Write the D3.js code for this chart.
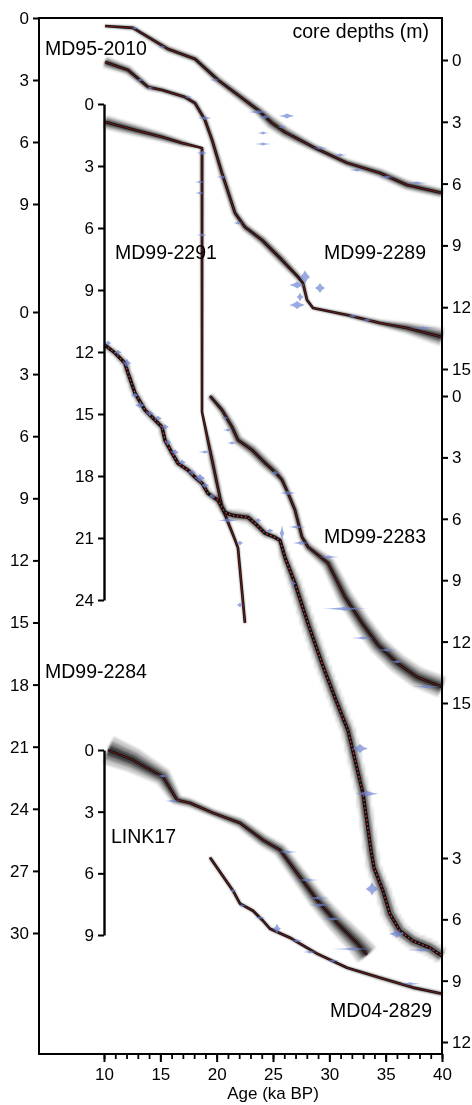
<!DOCTYPE html>
<html>
<head>
<meta charset="utf-8">
<script src="https://cdn.jsdelivr.net/npm/d3@7"></script>
<style>
  body { margin: 0; background: #fff; }
  svg { display: block; font-family: "Liberation Sans", Arial, sans-serif; }
</style>
</head>
<body>
<div id="chart"></div>
<script>
// age-depth models: [age (ka BP), depth (m), age uncertainty (ka)]
const md952010 = [[10.09,0.39,0.12],[12.57,0.48,0.2],[15.68,1.50,0.3],[18.08,1.98,0.3],[20.12,3.00,0.35],[23.67,4.45,0.4],[24.91,5.08,0.55],[26.06,5.52,0.5],[28.55,6.24,0.35],[31.57,7.01,0.35],[34.50,7.50,0.4],[36.89,8.08,0.45],[40.00,8.47,0.4]];
const md992289 = [[10.09,0.10,0.5],[12.13,0.49,0.4],[13.91,1.31,0.3],[15.15,1.46,0.25],[17.19,1.80,0.25],[18.08,2.09,0.25],[18.96,2.91,0.25],[19.59,3.88,0.25],[20.47,5.49,0.3],[21.63,7.43,0.3],[22.51,8.11,0.35],[24.02,8.74,0.4],[25.80,9.71,0.4],[27.22,10.53,0.3],[27.66,10.83,0.2],[28.02,11.65,0.15],[28.55,12.04,0.15],[31.57,12.38,0.2],[34.50,12.77,0.3],[36.89,13.01,0.5],[40.00,13.45,0.8]];
const md992291 = [[10.09,0.87,0.6],[12.75,1.26,0.5],[15.15,1.60,0.4],[16.92,1.89,0.3],[18.70,2.13,0.2],[18.70,14.90,0.05],[19.59,17.22,0.3],[20.47,19.50,0.25],[21.63,21.09,0.15],[21.89,21.48,0.12],[22.51,25.11,0.12]];
const md992284 = [[10.09,1.60,0.3],[10.98,1.98,0.3],[11.86,2.47,0.35],[12.13,2.95,0.35],[12.75,3.92,0.35],[13.64,4.74,0.35],[14.53,5.22,0.35],[15.15,5.56,0.35],[15.41,6.19,0.35],[16.04,6.82,0.35],[16.57,7.31,0.35],[17.46,7.64,0.35],[18.08,7.98,0.35],[18.70,8.27,0.35],[19.23,8.76,0.35],[20.12,9.10,0.4],[20.74,9.68,0.4],[21.36,9.82,0.5],[22.78,9.92,0.5],[23.40,10.21,0.45],[24.29,10.69,0.4],[25.18,10.89,0.35],[25.62,11.03,0.35],[26.06,11.85,0.45],[26.95,13.11,0.55],[28.11,15.05,0.6],[29.35,16.98,0.6],[30.50,18.63,0.6],[31.66,20.22,0.6],[32.99,23.27,0.6],[33.70,26.03,0.6],[33.97,26.85,0.6],[34.76,27.96,0.65],[35.38,29.08,0.7],[36.27,29.90,0.7],[37.43,30.38,0.7],[38.93,30.72,0.7],[40.00,31.11,0.7]];
const md992283 = [[19.41,0.00,0.3],[20.47,0.68,0.35],[21.36,1.51,0.4],[21.89,2.15,0.45],[23.14,2.64,0.5],[24.29,3.27,0.5],[25.18,3.71,0.45],[25.80,4.10,0.35],[26.33,4.74,0.3],[26.95,5.57,0.3],[27.57,6.89,0.3],[28.11,7.38,0.4],[29.88,8.16,0.6],[31.39,9.82,0.7],[32.90,11.09,0.75],[34.32,12.16,0.8],[36.01,13.04,0.85],[37.78,13.73,0.9],[40.00,14.22,0.95]];
const link17 = [[10.36,0.00,1.3],[12.57,0.49,1.1],[15.24,1.31,0.8],[16.48,2.43,0.5],[17.63,2.58,0.4],[19.67,3.06,0.35],[22.07,3.55,0.45],[24.11,4.38,0.55],[25.62,4.86,0.6],[27.13,5.98,0.65],[28.91,7.30,0.75],[30.68,8.41,0.85],[32.46,9.39,0.95],[33.34,9.97,1.05]];
const md042829 = [[19.41,2.98,0.15],[21.45,4.60,0.15],[22.07,5.23,0.15],[23.22,5.58,0.15],[24.11,6.07,0.15],[24.73,6.46,0.15],[26.51,6.90,0.15],[28.91,7.68,0.15],[31.57,8.37,0.15],[34.50,8.86,0.2],[37.43,9.34,0.2],[40.00,9.64,0.2]];

// calibrated dates: [age (ka BP), depth (m), spread (ka), relative density]
const md952010Dates = [[12.75,0.48,0.35,0.3],[15.15,1.40,0.35,0.3],[19.85,3.0,0.45,0.3],[23.67,4.55,0.9,0.4],[24.29,4.79,0.5,0.4],[26.24,4.74,0.7,0.5],[24.11,5.56,0.5,0.3],[24.11,6.10,0.7,0.3],[25.80,5.27,0.45,0.3],[29.17,6.29,0.7,0.3],[30.95,6.63,0.6,0.3],[32.46,7.35,0.7,0.3],[35.12,7.69,0.7,0.3],[37.78,7.98,0.9,0.3]];
const md992289Dates = [[13.20,0.97,0.35,0.3],[14.08,1.36,0.35,0.3],[17.46,1.80,0.35,0.3],[18.96,2.82,0.6,0.4],[20.47,5.68,0.5,0.3],[21.89,7.91,0.45,0.3],[27.13,10.92,0.7,0.7],[27.84,10.53,0.45,1.4],[29.17,11.07,0.45,1.0],[27.13,11.89,0.7,0.8],[27.40,11.50,0.3,0.9],[32.10,12.43,0.55,0.3],[33.34,12.62,0.55,0.3],[38.31,13.01,1.25,0.3]];
const md992291Dates = [[18.70,2.37,0.45,0.4],[18.52,3.77,0.45,0.3],[18.52,4.31,0.45,0.3],[18.70,6.34,0.45,0.3],[18.96,16.84,0.55,0.3],[22.07,21.24,0.3,0.5],[22.07,24.24,0.3,0.5]];
const md992284Dates = [[10.36,1.5,0.3,0.5],[11.24,1.94,0.35,0.5],[12.04,2.47,0.35,0.9],[12.75,4.02,0.35,0.5],[13.2,4.5,0.45,0.6],[14.08,4.89,0.35,0.6],[14.8,5.13,0.35,0.5],[15.41,5.56,0.35,0.6],[15.68,6.29,0.3,0.6],[16.3,6.77,0.35,0.6],[16.92,7.26,0.35,0.5],[17.8,7.74,0.35,0.6],[18.52,8.03,0.45,0.9],[18.96,8.37,0.35,0.6],[19.59,8.90,0.3,0.6],[21.0,10.06,0.9,0.4],[23.67,10.06,0.3,0.4],[24.73,10.55,0.3,0.4],[25.80,10.69,0.2,1.6],[26.77,13.11,0.2,0.8],[32.72,21.09,0.7,0.9],[33.34,23.27,1.05,0.6],[33.79,27.87,0.55,1.3],[36.01,30.04,0.7,0.8],[38.22,30.82,1.3,0.3]];
const md992283Dates = [[20.74,1.07,0.35,0.3],[21.0,1.66,0.45,0.3],[21.36,2.30,0.45,0.3],[25.18,3.76,0.35,0.5],[26.33,4.74,0.7,0.4],[27.13,6.40,0.8,0.3],[27.48,7.18,0.7,0.4],[29.97,7.87,0.9,0.3],[31.39,10.4,2.0,0.4],[32.99,11.82,1.0,0.3],[35.12,12.41,0.9,0.3],[36.01,12.99,0.7,0.3],[38.67,14.21,1.3,0.3]];
const link17Dates = [[15.24,1.26,0.7,0.3],[16.12,2.48,0.7,0.3],[26.24,4.96,0.9,0.3],[28.02,6.32,1.05,0.3],[28.99,7.20,1.05,0.3],[29.17,7.54,1.05,0.3],[30.33,8.22,1.05,0.3],[32.10,9.68,1.8,0.3]];
const md042829Dates = [[21.45,4.60,0.35,0.3],[22.25,5.33,0.35,0.3],[23.85,5.92,0.45,0.3],[25.35,6.46,0.35,1.0],[27.13,7.05,0.5,0.3],[28.28,7.60,0.6,0.3],[30.33,8.02,0.5,0.3],[37.16,9.15,0.9,0.3]];

const ageTicks = [10, 15, 20, 25, 30, 35, 40];
const minorAgeTicks = d3.range(10, 41, 1);
const coreNames = ['MD95-2010', 'MD99-2289', 'MD99-2291', 'MD99-2284', 'MD99-2283', 'LINK17', 'MD04-2829'];

const width = 472, height = 1105;
const frame = { left: 39, right: 442, top: 18, bottom: 1054 };
const innerAxisX = 104;

const svg = d3.select('#chart').append('svg')
    .attr('width', width)
    .attr('height', height);

const defs = svg.append('defs');
defs.append('filter').attr('id', 'soft')
    .append('feGaussianBlur').attr('stdDeviation', 1.3);
const stip = defs.append('pattern').attr('id', 'stipple')
    .attr('width', 3).attr('height', 3).attr('patternUnits', 'userSpaceOnUse');
stip.append('rect').attr('width', 1.4).attr('height', 1.4).attr('fill', '#000').attr('opacity', 0.6);

const x = d3.scaleLinear().domain([10, 40]).range([innerAxisX, frame.right]);

// depth scale for each core panel, and where its axis sits
const panels = [
    { name: coreNames[0], data: md952010, dates: md952010Dates, side: 'left', domain: [0, 9], range: [18, 204], ticks: [0, 3, 6, 9] },
    { name: coreNames[1], data: md992289, dates: md992289Dates, side: 'right', domain: [0, 15], range: [60, 369], ticks: [0, 3, 6, 9, 12, 15] },
    { name: coreNames[2], data: md992291, dates: md992291Dates, side: 'inner', domain: [0, 24], range: [104, 600], ticks: d3.range(0, 25, 3) },
    { name: coreNames[3], data: md992284, dates: md992284Dates, side: 'left', domain: [0, 30], range: [312, 933], ticks: d3.range(0, 31, 3), dotted: true },
    { name: coreNames[4], data: md992283, dates: md992283Dates, side: 'right', domain: [0, 15], range: [396, 703], ticks: [0, 3, 6, 9, 12, 15] },
    { name: coreNames[5], data: link17, dates: link17Dates, side: 'inner', domain: [0, 9], range: [750, 935], ticks: [0, 3, 6, 9] },
    { name: coreNames[6], data: md042829, dates: md042829Dates, side: 'right', domain: [3, 12], range: [858, 1042], ticks: [3, 6, 9, 12] }
];
panels.forEach(p => { p.y = d3.scaleLinear().domain(p.domain).range(p.range); });

// band around a polyline, offset perpendicular to the path
function ribbon(pts, k) {
    const a = [], b = [];
    pts.forEach((p, i) => {
        const p0 = pts[Math.max(i - 1, 0)], p1 = pts[Math.min(i + 1, pts.length - 1)];
        const dx = p1[0] - p0[0], dy = p1[1] - p0[1];
        const len = Math.hypot(dx, dy) || 1;
        const w = p[2] * k;
        a.push([p[0] - dy / len * w, p[1] + dx / len * w]);
        b.push([p[0] + dy / len * w, p[1] - dx / len * w]);
    });
    return d3.line()(a.concat(b.reverse())) + 'Z';
}

function spindle(cx, cy, w, h) {
    const c = 0.32;
    return `M${cx - w},${cy}Q${cx - w * c},${cy - h * c} ${cx},${cy - h}` +
        `Q${cx + w * c},${cy - h * c} ${cx + w},${cy}` +
        `Q${cx + w * c},${cy + h * c} ${cx},${cy + h}` +
        `Q${cx - w * c},${cy + h * c} ${cx - w},${cy}Z`;
}

const pxPerKa = x(11) - x(10);
const bands = svg.append('g').attr('filter', 'url(#soft)');
const lines = svg.append('g');
const dates = svg.append('g');

panels.forEach(p => {
    const pts = p.data.map(d => [x(d[0]), p.y(d[1]), d[2] * pxPerKa]);
    if (p.dotted) {
        bands.append('path').attr('d', ribbon(pts, 1.1)).attr('fill', 'url(#stipple)');
        bands.append('path').attr('d', ribbon(pts, 0.6)).attr('fill', '#000').attr('opacity', 0.5);
    } else {
        [[1, 0.2], [0.65, 0.32], [0.35, 0.55]].forEach(([k, o]) => {
            bands.append('path').attr('d', ribbon(pts, k)).attr('fill', '#000').attr('opacity', o);
        });
    }
    const line = d3.line().x(d => x(d[0])).y(d => p.y(d[1]));
    lines.append('path').datum(p.data)
        .attr('d', line)
        .attr('fill', 'none')
        .attr('stroke', '#111')
        .attr('stroke-width', p.dotted ? 3.4 : 2.6)
        .attr('stroke-linejoin', 'round');
    lines.append('path').datum(p.data)
        .attr('d', line)
        .attr('fill', 'none')
        .attr('stroke', p.dotted ? '#e8333a' : '#8a1c1c')
        .attr('stroke-width', p.dotted ? 1.3 : 0.8)
        .attr('stroke-dasharray', p.dotted ? '1.5 2.5' : null);

    dates.selectAll(null)
        .data(p.dates)
        .enter().append('path')
        .attr('d', d => spindle(x(d[0]), p.y(d[1]), d[2] * pxPerKa, Math.max(1.4, d[3] * 5)))
        .attr('fill', '#6f86d4')
        .attr('opacity', 0.7);
});

// frame
svg.append('rect')
    .attr('x', frame.left).attr('y', frame.top)
    .attr('width', frame.right - frame.left).attr('height', frame.bottom - frame.top)
    .attr('fill', 'none').attr('stroke', '#000').attr('stroke-width', 2);

// depth axes
panels.forEach(p => {
    let axis, ax;
    if (p.side === 'left') {
        axis = d3.axisLeft(p.y); ax = frame.left;
    } else if (p.side === 'right') {
        axis = d3.axisRight(p.y); ax = frame.right;
    } else {
        axis = d3.axisLeft(p.y); ax = innerAxisX;
    }
    axis.tickValues(p.ticks).tickSize(6).tickSizeOuter(0).tickPadding(4).tickFormat(d3.format('d'));
    const g = svg.append('g')
        .attr('transform', `translate(${ax},0)`)
        .call(axis);
    if (p.side !== 'inner') g.select('.domain').remove();
    g.select('.domain').attr('stroke-width', 2.4);
    g.selectAll('.tick line').attr('stroke-width', 2);
    g.selectAll('.tick text').attr('font-size', 17).attr('fill', '#000')
        .attr('font-family', '"Liberation Sans", Arial, sans-serif');
});

// age axis
const minor = svg.append('g')
    .attr('transform', `translate(0,${frame.bottom})`)
    .call(d3.axisBottom(x).tickValues(minorAgeTicks).tickSize(5).tickFormat(''));
minor.select('.domain').remove();
minor.selectAll('.tick line').attr('stroke-width', 1.8);

const major = svg.append('g')
    .attr('transform', `translate(0,${frame.bottom})`)
    .call(d3.axisBottom(x).tickValues(ageTicks).tickSize(8).tickPadding(6));
major.select('.domain').remove();
major.selectAll('.tick line').attr('stroke-width', 2);
major.selectAll('.tick text').attr('font-size', 17).attr('fill', '#000')
    .attr('font-family', '"Liberation Sans", Arial, sans-serif');

svg.append('text')
    .attr('x', x(25)).attr('y', 1099)
    .attr('text-anchor', 'middle')
    .attr('font-size', 17)
    .text('Age (ka BP)');

// labels
const labels = [
    { t: 'core depths (m)', x: 429, y: 38, anchor: 'end' },
    { t: coreNames[0], x: 45, y: 55, anchor: 'start' },
    { t: coreNames[2], x: 115, y: 259, anchor: 'start' },
    { t: coreNames[1], x: 426, y: 259, anchor: 'end' },
    { t: coreNames[4], x: 426, y: 543, anchor: 'end' },
    { t: coreNames[3], x: 45, y: 678, anchor: 'start' },
    { t: coreNames[5], x: 111, y: 843, anchor: 'start' },
    { t: coreNames[6], x: 432, y: 1017, anchor: 'end' }
];
svg.selectAll('.lab')
    .data(labels)
    .enter().append('text')
    .attr('class', 'lab')
    .attr('x', d => d.x).attr('y', d => d.y)
    .attr('text-anchor', d => d.anchor)
    .attr('font-size', 19.5)
    .text(d => d.t);
</script>
</body>
</html>
